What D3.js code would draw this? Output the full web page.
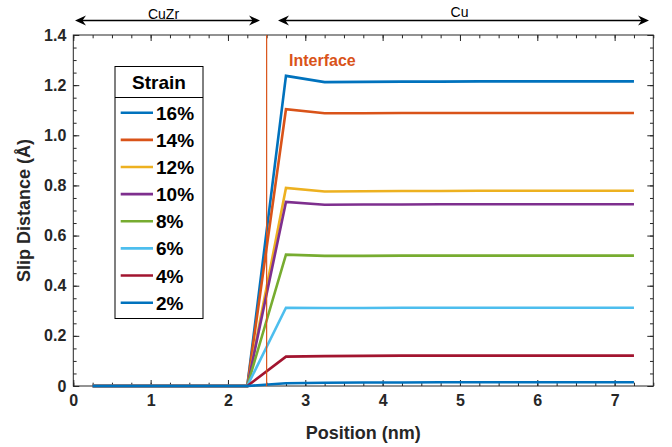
<!DOCTYPE html>
<html>
<head>
<meta charset="utf-8">
<script src="https://cdn.jsdelivr.net/npm/d3@7"></script>
<style>
  html, body { margin: 0; padding: 0; background: #fff; }
  svg { display: block; font-family: "Liberation Sans", Arial, Helvetica, sans-serif; }
</style>
</head>
<body>
<svg id="chart" width="672" height="447"></svg>
<script>
// Sampling positions along the slip path (nm)
const positions = [0.25, 0.75, 1.25, 1.75, 2.25, 2.75, 3.25, 3.75, 4.25, 4.75, 5.25, 5.75, 6.25, 6.75, 7.25];

// Applied strain levels, in legend order
const strains = ["16%", "14%", "12%", "10%", "8%", "6%", "4%", "2%"];

// Slip distance (Å) per strain level
const slip16 = [0, 0, 0, 0, 0, 1.237, 1.212, 1.213, 1.214, 1.214, 1.215, 1.215, 1.215, 1.215, 1.215];
const slip14 = [0, 0, 0, 0, 0, 1.104, 1.088, 1.088, 1.089, 1.089, 1.089, 1.089, 1.089, 1.089, 1.089];
const slip12 = [0, 0, 0, 0, 0, 0.790, 0.776, 0.777, 0.778, 0.778, 0.779, 0.779, 0.779, 0.779, 0.779];
const slip10 = [0, 0, 0, 0, 0, 0.734, 0.723, 0.724, 0.724, 0.725, 0.725, 0.725, 0.725, 0.725, 0.725];
const slip8  = [0, 0, 0, 0, 0, 0.524, 0.519, 0.519, 0.520, 0.520, 0.520, 0.520, 0.520, 0.520, 0.520];
const slip6  = [0, 0, 0, 0, 0, 0.312, 0.311, 0.311, 0.312, 0.312, 0.312, 0.312, 0.312, 0.312, 0.312];
const slip4  = [0, 0, 0, 0, 0, 0.117, 0.119, 0.120, 0.121, 0.121, 0.121, 0.121, 0.121, 0.121, 0.121];
const slip2  = [0, 0, 0, 0, 0, 0.011, 0.013, 0.014, 0.014, 0.015, 0.015, 0.015, 0.015, 0.015, 0.015];

const seriesValues = [slip16, slip14, slip12, slip10, slip8, slip6, slip4, slip2];
const seriesColors = ["#0072BD", "#D95319", "#EDB120", "#7E2F8E", "#77AC30", "#4DBEEE", "#A2142F", "#0072BD"];

// Axis ticks
const xTicks = [0, 1, 2, 3, 4, 5, 6, 7];
const yTicks = [0, 0.2, 0.4, 0.6, 0.8, 1.0, 1.2, 1.4];
const yTickLabels = ["0", "0.2", "0.4", "0.6", "0.8", "1.0", "1.2", "1.4"];

const interfacePos = 2.5;
const regionLabels = ["CuZr", "Cu"];

// ---- layout ----
const svg = d3.select("#chart");
const L = 73.3, T = 35, R = 653.3, B = 386;
const axisColor = "#262626";

const x = d3.scaleLinear().domain([0, 7.5]).range([L, R]);
const y = d3.scaleLinear().domain([0, 1.4]).range([B, T]);

const minorX = d3.range(0, 7.5001, 0.25);
const minorY = d3.range(0, 1.4001, 0.05);

function styleAxis(g) {
  g.select(".domain").remove();
  g.selectAll(".tick line").attr("stroke", axisColor).attr("stroke-width", 1);
  g.selectAll(".tick text")
    .attr("fill", axisColor)
    .style("font-size", "16px")
    .style("font-weight", "bold")
    .style("font-family", "'Liberation Sans', Arial, sans-serif");
}

// minor ticks on all four sides (pointing inward)
svg.append("g").attr("transform", `translate(0,${B})`)
  .call(d3.axisBottom(x).tickValues(minorX).tickSize(-3.3).tickSizeOuter(0).tickFormat(""))
  .call(styleAxis);
svg.append("g").attr("transform", `translate(0,${T})`)
  .call(d3.axisTop(x).tickValues(minorX).tickSize(-3.3).tickSizeOuter(0).tickFormat(""))
  .call(styleAxis);
svg.append("g").attr("transform", `translate(${L},0)`)
  .call(d3.axisLeft(y).tickValues(minorY).tickSize(-3.3).tickSizeOuter(0).tickFormat(""))
  .call(styleAxis);
svg.append("g").attr("transform", `translate(${R},0)`)
  .call(d3.axisRight(y).tickValues(minorY).tickSize(-3.3).tickSizeOuter(0).tickFormat(""))
  .call(styleAxis);

// major ticks with labels
svg.append("g").attr("transform", `translate(0,${B})`)
  .call(d3.axisBottom(x).tickValues(xTicks).tickSize(-6).tickSizeOuter(0).tickPadding(9)
    .tickFormat(d => String(d)))
  .call(styleAxis);
svg.append("g").attr("transform", `translate(0,${T})`)
  .call(d3.axisTop(x).tickValues(xTicks).tickSize(-6).tickSizeOuter(0).tickFormat(""))
  .call(styleAxis);
svg.append("g").attr("transform", `translate(${L},0)`)
  .call(d3.axisLeft(y).tickValues(yTicks).tickSize(-6).tickSizeOuter(0).tickPadding(7)
    .tickFormat((d, i) => yTickLabels[i]))
  .call(styleAxis);
svg.append("g").attr("transform", `translate(${R},0)`)
  .call(d3.axisRight(y).tickValues(yTicks).tickSize(-6).tickSizeOuter(0).tickFormat(""))
  .call(styleAxis);

// axes box
svg.append("rect")
  .attr("x", L).attr("y", T).attr("width", R - L).attr("height", B - T)
  .attr("fill", "none").attr("stroke", axisColor).attr("stroke-width", 1);

// ---- data lines ----
const line = d3.line().x(d => x(d[0])).y(d => y(d[1]));
seriesValues.forEach((vals, i) => {
  svg.append("path")
    .datum(positions.map((p, j) => [p, vals[j]]))
    .attr("d", line)
    .attr("fill", "none")
    .attr("stroke", seriesColors[i])
    .attr("stroke-width", 2.6)
    .attr("stroke-linejoin", "miter");
});

// interface marker
svg.append("line")
  .attr("x1", x(interfacePos)).attr("x2", x(interfacePos))
  .attr("y1", T).attr("y2", B)
  .attr("stroke", "#D95319").attr("stroke-width", 1.2);
svg.append("text")
  .attr("x", 289).attr("y", 66)
  .attr("fill", "#D95319")
  .style("font-size", "16px").style("font-weight", "bold")
  .text("Interface");

// axis labels
svg.append("text")
  .attr("x", (L + R) / 2).attr("y", 439)
  .attr("text-anchor", "middle")
  .attr("fill", axisColor)
  .style("font-size", "18px").style("font-weight", "bold")
  .text("Position (nm)");
svg.append("text")
  .attr("transform", `translate(30,${(T + B) / 2}) rotate(-90)`)
  .attr("text-anchor", "middle")
  .attr("fill", axisColor)
  .style("font-size", "18px").style("font-weight", "bold")
  .text("Slip Distance (Å)");

// ---- legend ----
const lg = svg.append("g");
const lgX = 115, lgY = 66.5, lgW = 88, lgH = 252, lgHead = 31;
lg.append("rect")
  .attr("x", lgX).attr("y", lgY).attr("width", lgW).attr("height", lgH)
  .attr("fill", "#fff").attr("stroke", "#000").attr("stroke-width", 1);
lg.append("line")
  .attr("x1", lgX).attr("x2", lgX + lgW)
  .attr("y1", lgY + lgHead).attr("y2", lgY + lgHead)
  .attr("stroke", "#000").attr("stroke-width", 1);
lg.append("text")
  .attr("x", lgX + lgW / 2).attr("y", lgY + 22)
  .attr("text-anchor", "middle")
  .style("font-size", "19px").style("font-weight", "bold")
  .text("Strain");
strains.forEach((s, i) => {
  const cy = 112.7 + i * 27.14;
  lg.append("line")
    .attr("x1", 120.7).attr("x2", 153)
    .attr("y1", cy).attr("y2", cy)
    .attr("stroke", seriesColors[i]).attr("stroke-width", 2.6);
  lg.append("text")
    .attr("x", 156).attr("y", cy + 7)
    .style("font-size", "19px").style("font-weight", "bold")
    .text(s);
});

// ---- region arrows above the axes ----
function arrowHead(xTip, yc, dir) {
  // swept-back filled arrowhead pointing in direction dir (-1 left, +1 right)
  const len = 11, half = 5, notch = 3.5;
  const p = [
    [xTip, yc],
    [xTip - dir * len, yc - half],
    [xTip - dir * (len - notch), yc],
    [xTip - dir * len, yc + half]
  ];
  svg.append("path")
    .attr("d", "M" + p.map(q => q.join(",")).join("L") + "Z")
    .attr("fill", "#000");
}
const arrowY = 20.5;
const regions = [[75, 260], [278, 649]];
regions.forEach((r, i) => {
  svg.append("line")
    .attr("x1", r[0] + 4).attr("x2", r[1] - 4)
    .attr("y1", arrowY).attr("y2", arrowY)
    .attr("stroke", "#000").attr("stroke-width", 1.3);
  arrowHead(r[0], arrowY, -1);
  arrowHead(r[1], arrowY, 1);
  svg.append("text")
    .attr("x", (r[0] + r[1]) / 2 - 4).attr("y", i === 0 ? 19 : 17)
    .attr("text-anchor", "middle")
    .style("font-size", "14px")
    .text(regionLabels[i]);
});
</script>
</body>
</html>
